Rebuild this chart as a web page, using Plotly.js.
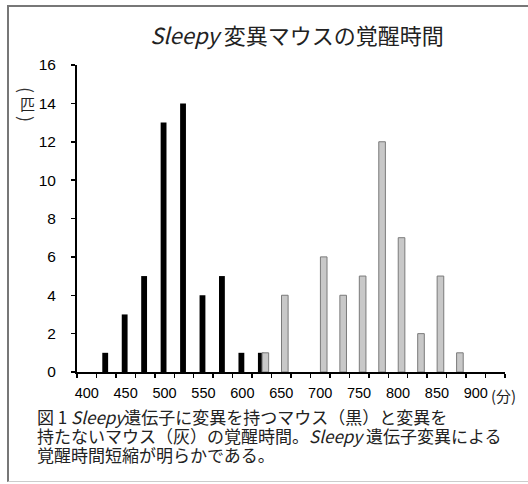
<!DOCTYPE html>
<html>
<head>
<meta charset="utf-8">
<script src="https://cdn.plot.ly/plotly-3.0.1.min.js"></script>
<style>
  html, body { margin: 0; padding: 0; background: #fff; }
  #wrap { position: relative; width: 528px; height: 484px; overflow: hidden; }
  #chart { position: absolute; left: 0; top: 0; width: 528px; height: 484px; }
  #frame { position: absolute; left: 7px; top: 5px; width: 600px; height: 474px;
           border-left: 2px solid #777; border-top: 2px solid #777; border-bottom: 1px solid #ccc;
           pointer-events: none; }
</style>
</head>
<body>
<div id="wrap"><div id="chart"></div><div id="frame"></div></div>
<script>
// Wake time bins (minutes) — each bar covers a 25-minute class
const mutantBins   = [425, 450, 475, 500, 525, 550, 575, 600, 625];
const mutantCounts = [1, 3, 5, 13, 14, 4, 5, 1, 1];
const wildBins     = [625, 650, 700, 725, 750, 775, 800, 825, 850, 875];
const wildCounts   = [1, 4, 6, 4, 5, 12, 7, 2, 5, 1];
const yTickLabels  = ['0','2','4','6','8','10','12','14','16'];
const titleText    = '<i>Sleepy</i> 変異マウスの覚醒時間';
const captionLines = [
  '図 1 <i>Sleepy</i>遺伝子に変異を持つマウス（黒）と変異を',
  '持たないマウス（灰）の覚醒時間。<i>Sleepy</i> 遺伝子変異による',
  '覚醒時間短縮が明らかである。'
];

const JP = '"Noto Sans CJK JP", "Noto Sans", sans-serif';
const NUM = '"Liberation Sans", Arial, sans-serif';

// plot area in px
const L = 77, R = 505, T = 65, B = 372;
const W = 528, H = 484;
const px2x = p => (p - L) / (R - L);
const py2y = p => (B - p) / (B - T);

const traces = [
  {
    type: 'bar', x: mutantBins, y: mutantCounts, name: '変異あり',
    width: 7.5, offset: -5.0,
    marker: { color: '#000000', line: { width: 0 } },
    hoverinfo: 'x+y'
  },
  {
    type: 'bar', x: wildBins, y: wildCounts, name: '変異なし',
    width: 8.5, offset: 0.3,
    marker: { color: '#c8c8c8', line: { color: '#7a7a7a', width: 1 } },
    hoverinfo: 'x+y'
  }
];

const annotations = [];
const capY = [416, 435, 454];
captionLines.forEach((t, i) => {
  annotations.push({
    xref: 'paper', yref: 'paper', x: px2x(35), y: py2y(capY[i]),
    xanchor: 'left', yanchor: 'middle', showarrow: false, text: t,
    font: { family: JP, size: 17, color: '#222' }
  });
});
// x-axis unit
annotations.push({
  xref: 'paper', yref: 'paper', x: px2x(489), y: py2y(395),
  xanchor: 'left', yanchor: 'middle', showarrow: false, text: '(分)',
  font: { family: JP, size: 15, color: '#222' }
});
// y-axis unit, written vertically: （匹）
annotations.push({
  xref: 'paper', yref: 'paper', x: px2x(27), y: py2y(90),
  xanchor: 'center', yanchor: 'middle', showarrow: false, text: '(',
  textangle: 90, font: { family: JP, size: 18, color: '#333' }
});
annotations.push({
  xref: 'paper', yref: 'paper', x: px2x(27), y: py2y(104),
  xanchor: 'center', yanchor: 'middle', showarrow: false, text: '匹',
  font: { family: JP, size: 15, color: '#222' }
});
annotations.push({
  xref: 'paper', yref: 'paper', x: px2x(27), y: py2y(119),
  xanchor: 'center', yanchor: 'middle', showarrow: false, text: ')',
  textangle: 90, font: { family: JP, size: 18, color: '#333' }
});

const layout = {
  width: W, height: H,
  margin: { l: L, r: W - R, t: T, b: H - B, pad: 0 },
  paper_bgcolor: '#ffffff', plot_bgcolor: '#ffffff',
  showlegend: false,
  barmode: 'overlay',
  title: {
    text: titleText, xref: 'container', yref: 'container',
    x: 297 / W, y: 1 - 36 / H, xanchor: 'center', yanchor: 'middle',
    font: { family: JP, size: 22, color: '#222' }
  },
  xaxis: {
    range: [387.5, 937.5], tick0: 400, dtick: 50,
    ticks: '', showgrid: false, zeroline: false,
    showline: true, linecolor: '#000', linewidth: 2,
    tickfont: { family: NUM, size: 14.5, color: '#000' },
    ticklabelstandoff: 7,
    minor: { ticks: 'outside', tick0: 387.5, dtick: 25, ticklen: 4, tickwidth: 1.5, tickcolor: '#000', showgrid: false }
  },
  yaxis: {
    range: [0, 16], tickvals: [0,2,4,6,8,10,12,14,16], ticktext: yTickLabels,
    ticks: 'outside', ticklen: 4, tickwidth: 1.5, tickcolor: '#000',
    showgrid: false, zeroline: false,
    showline: true, linecolor: '#000', linewidth: 2,
    tickfont: { family: NUM, size: 15.5, color: '#000' },
    ticklabelstandoff: 12
  },
  annotations: annotations
};

Plotly.newPlot('chart', traces, layout, { displayModeBar: false, staticPlot: true });
</script>
</body>
</html>
